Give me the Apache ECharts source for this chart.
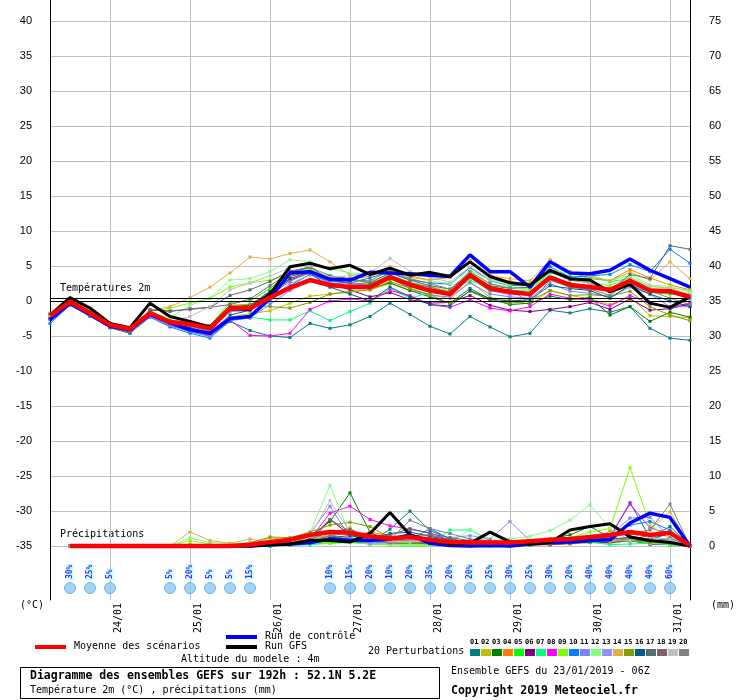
<!DOCTYPE html>
<html><head><meta charset="utf-8">
<script src="https://cdn.jsdelivr.net/npm/echarts@6/dist/echarts.min.js"></script>
<style>html,body{margin:0;padding:0;background:#fff}#c{width:740px;height:700px}</style>
</head><body><div id="c"></div>
<script>
// ---- time axis (hours since 23/01/2019 06Z) ----
const hours = [0,6,12,18,24,30,36,42,48,54,60,66,72,78,84,90,96,102,108,114,120,126,132,138,144,150,156,162,168,174,180,186,192];
const dayHours = [18,42,66,90,114,138,162,186];
const dayLabels = ['24/01','25/01','26/01','27/01','28/01','29/01','30/01','31/01'];
const tempTicks = [-35,-30,-25,-20,-15,-10,-5,0,5,10,15,20,25,30,35,40];
const mmTicks = [0,5,10,15,20,25,30,35,40,45,50,55,60,65,70,75];

// ---- temperatures 2m (°C) ----
const meanT = [-2.1,-0.1,-1.7,-3.4,-4.0,-1.7,-3.0,-3.3,-3.9,-1.0,-1.0,0.5,1.9,3.0,2.3,2.0,2.0,3.4,2.3,1.5,1.0,3.7,1.8,1.3,1.0,3.4,2.3,2.0,1.6,2.9,1.5,1.4,0.6];
const ctrlT = [-2.7,-0.3,-1.9,-3.6,-4.1,-1.9,-3.1,-4.1,-4.6,-2.5,-2.2,0.4,4.0,4.2,3.1,3.0,4.1,4.0,3.9,3.7,3.5,6.6,4.2,4.2,2.0,5.6,4.0,3.9,4.4,6.0,4.4,3.2,2.0];
const gfsT = [-2.0,0.5,-1.0,-3.2,-3.8,-0.3,-2.2,-2.9,-3.7,-1.1,-1.2,1.0,4.9,5.4,4.6,5.1,3.8,4.7,3.7,4.1,3.5,5.6,3.5,2.6,2.3,4.4,3.2,3.0,1.3,2.4,-0.3,-0.9,0.6];
const pt01 = [-2.3,-0.2,-1.9,-3.6,-4.3,-2.0,-3.4,-4.4,-5.0,-2.9,-4.2,-5.0,-5.2,-3.2,-3.9,-3.4,-2.2,-0.3,-1.9,-3.6,-4.7,-2.2,-3.7,-5.1,-4.6,-1.3,-1.7,-1.1,-1.6,-0.8,-3.9,-5.3,-5.6];
const pt02 = [-2.0,0.0,-1.8,-3.5,-4.2,-1.8,-3.3,-3.6,-4.4,-2.3,-1.8,-1.4,-0.3,0.7,1.0,1.4,1.6,2.5,1.5,1.0,0.3,2.8,0.5,0.2,-0.5,1.5,0.8,0.3,-0.5,0.6,-2.1,-2.2,-2.4];
const pt03 = [-1.9,0.1,-1.6,-3.3,-4.1,-1.5,-2.9,-3.4,-4.0,-0.8,-0.6,1.4,3.5,4.3,3.0,2.5,1.8,2.6,1.5,0.6,-0.3,1.8,0.3,-0.5,-0.3,0.7,0.2,0.5,-2.0,-0.8,-2.9,-1.6,-2.3];
const pt04 = [-2.2,-0.2,-1.8,-3.6,-4.4,-1.9,-3.3,-3.7,-4.3,-1.3,-1.2,1.0,3.6,4.5,3.3,3.2,3.5,4.6,3.6,3.0,3.4,5.8,3.7,2.8,2.3,5.8,4.2,3.2,2.9,4.5,3.3,2.3,1.6];
const pt05 = [-2.0,0.0,-1.7,-3.3,-3.9,-1.4,-2.7,-3.0,-3.5,-0.2,0.0,1.8,3.9,4.8,3.6,3.0,2.6,3.4,2.1,1.7,1.2,3.3,1.4,1.6,1.1,3.0,2.0,2.0,1.5,2.5,1.2,1.0,1.1];
const pt06 = [-2.6,-0.4,-2.0,-3.7,-4.3,-1.6,-2.9,-3.2,-3.7,-0.9,-0.8,1.3,3.2,4.2,2.5,1.6,0.6,1.2,0.2,-0.3,-0.2,0.8,-0.6,-1.3,-1.5,-1.2,-0.8,-0.2,-1.2,0.3,-1.3,-1.1,-0.4];
const pt07 = [-2.1,-0.1,-1.8,-3.5,-4.3,-2.0,-3.4,-3.9,-4.8,-2.5,-2.3,-2.7,-2.7,-1.4,-2.8,-1.5,-0.3,1.8,0.4,1.2,1.6,2.9,2.1,1.5,1.6,4.0,3.5,3.4,2.8,3.2,1.8,1.3,0.2];
const pt08 = [-2.2,-0.2,-1.9,-3.6,-4.4,-2.1,-3.6,-4.2,-4.9,-2.7,-4.9,-5.0,-4.6,-1.2,0.0,0.3,0.0,1.5,0.8,-0.5,-0.9,0.2,-1.0,-1.4,-0.8,1.0,0.4,0.1,-0.7,0.8,-0.4,-0.9,-0.3];
const pt09 = [-2.0,0.0,-1.6,-3.3,-4.0,-1.5,-1.0,-0.3,0.4,2.0,2.6,3.0,3.8,4.6,3.3,3.1,2.8,3.8,2.7,2.1,1.4,4.1,2.4,2.0,1.7,4.2,3.1,2.7,2.2,3.4,2.1,1.9,1.5];
const pt10 = [-3.2,-0.6,-2.2,-3.8,-4.6,-2.3,-3.7,-4.6,-5.3,-2.8,-2.4,0.0,2.2,3.8,2.8,2.6,3.3,4.2,3.0,2.6,2.4,4.8,2.9,2.2,2.2,4.9,3.4,3.6,3.8,5.2,4.2,7.4,5.4];
const pt11 = [-2.4,-0.3,-1.9,-3.6,-4.5,-2.2,-3.5,-4.3,-5.1,-2.6,-2.4,-0.5,1.5,2.9,2.0,1.9,2.1,3.3,1.8,0.8,0.6,2.6,1.0,0.6,0.4,2.5,1.4,1.1,0.6,2.0,1.0,-0.8,-0.8];
const pt12 = [-2.1,0.0,-1.7,-3.4,-4.0,-1.6,-2.4,-0.6,0.4,3.0,3.2,4.2,5.9,5.6,4.6,4.0,3.8,4.5,3.4,2.9,2.5,4.4,3.0,2.3,2.6,4.4,4.0,3.6,2.9,3.7,2.3,2.1,1.3];
const pt13 = [-2.3,-0.2,-1.8,-3.5,-4.2,-1.8,-3.2,-3.6,-4.2,-1.5,-1.4,0.3,2.5,3.7,2.6,2.4,2.3,3.6,2.5,1.8,1.0,3.5,1.5,0.9,0.9,3.1,2.0,1.6,1.8,2.4,1.3,1.6,0.4];
const pt14 = [-2.0,0.1,-1.6,-3.3,-4.1,-1.4,-0.8,0.5,2.0,4.0,6.3,6.0,6.8,7.3,5.6,3.7,3.8,4.9,3.4,3.0,3.4,5.7,3.6,3.2,2.9,5.9,4.2,3.6,2.9,4.1,3.0,5.6,3.2];
const pt15 = [-1.8,0.2,-1.5,-3.3,-4.0,-1.5,-2.8,-3.1,-3.5,-0.6,-0.5,-0.8,-1.0,-0.2,1.0,1.3,1.6,2.8,1.8,0.9,-0.4,1.4,0.1,-0.3,0.0,1.5,0.8,0.9,0.7,1.4,-0.8,-2.0,-2.8];
const pt16 = [-2.4,-0.3,-2.0,-3.7,-4.4,-1.9,-3.2,-3.8,-4.6,-2.0,-1.3,1.2,3.0,4.0,2.0,1.0,0.0,2.0,0.6,-0.5,-0.7,1.5,0.3,0.0,0.2,2.2,1.8,1.5,0.4,2.3,1.0,0.0,-0.8];
const pt17 = [-2.5,-0.4,-2.1,-3.8,-4.6,-1.2,-1.5,-1.1,-0.9,0.8,1.6,2.8,4.3,4.8,3.6,3.2,2.6,4.0,3.0,2.2,1.7,3.8,2.2,1.8,2.0,4.2,3.0,2.6,1.4,3.8,3.2,7.9,7.4];
const pt18 = [-2.3,-0.2,-1.9,-3.6,-4.3,-1.3,-1.4,-1.2,-0.9,-0.5,0.3,2.2,4.1,4.9,3.0,2.6,2.4,3.7,2.6,2.0,1.2,3.7,1.9,1.5,0.8,3.3,2.5,2.1,1.4,2.8,1.4,1.2,0.8];
const pt19 = [-2.2,-0.1,-1.8,-3.5,-4.1,-1.8,-3.0,-2.2,-0.8,1.6,2.6,3.6,4.8,5.0,3.4,3.6,4.0,6.1,4.2,3.4,2.7,4.9,3.1,2.6,2.2,4.5,3.2,2.5,1.8,3.2,2.1,1.8,1.0];
const pt20 = [-2.5,-0.3,-2.0,-3.6,-4.3,-1.7,-3.1,-3.5,-4.4,-1.4,-0.9,0.9,2.8,4.2,3.2,3.0,2.9,4.4,3.2,2.5,1.7,4.2,2.5,1.8,-0.4,3.0,2.0,1.7,0.8,3.0,1.5,0.4,-0.5];

// ---- precipitation (mm / 6h), from +6h ----
const meanP = [0,0,0,0,0,0,0,0,0,0.2,0.6,0.9,1.6,2.0,1.9,1.4,1.1,1.3,0.9,0.6,0.5,0.5,0.5,0.7,0.9,1.0,1.3,1.6,2.0,1.6,1.9,0.1];
const ctrlP = [0,0,0,0,0,0,0,0,0,0,0.2,0.3,0.5,1.0,0.8,0.8,1.0,1.6,0.4,0.1,0.0,0.1,0.0,0.3,0.5,0.6,0.8,0.9,3.3,4.7,4.1,0.0];
const gfsP = [0,0,0,0,0,0,0,0,0,0,0.2,0.3,0.8,0.8,0.6,1.8,4.8,1.6,0.8,0.3,0.4,2.0,0.6,0.3,0.5,2.3,2.8,3.2,1.3,0.8,0.5,0.0];
const pp01 = [0,0,0,0,0,0,0,0,0,0,0.3,0.5,0.8,1.5,0.9,0.6,2.4,5.0,2.2,1.1,0.4,0.5,0.8,0.6,0.5,0.6,1.0,1.3,6.2,1.2,2.8,0.0];
const pp02 = [0,0,0,0,0,0,0.3,0,0,0.2,1.2,0.8,0.6,1.8,2.6,0.7,0.5,0.4,0.9,0.3,0.2,0.3,0.2,0.1,0.4,0.6,0.8,0.7,1.0,0.6,0.8,0.0];
const pp03 = [0,0,0,0,0,0,0,0,0,0,0.4,0.3,1.4,3.5,7.6,2.0,0.6,0.4,0.6,0.2,0.1,0.8,0.3,0.2,1.0,1.6,2.8,1.2,0.8,0.3,0.2,0.0];
const pp04 = [0,0,0,0,0,0,0,0,0,0.5,0.2,0.5,0.8,1.0,1.3,2.0,1.5,1.2,0.8,0.8,0.5,0.3,0.2,0.1,0.2,0.3,0.5,2.2,1.5,0.6,0.4,0.0];
const pp05 = [0,0,0,0,0,0,0,0,0,0,0.0,0.2,0.3,0.5,0.6,0.3,0.4,0.3,0.2,0.1,0.0,0.0,0.0,0.1,0.3,0.4,0.5,0.4,0.8,0.6,1.0,0.0];
const pp06 = [0,0,0,0,0,0,0,0,0,0,0.1,0.2,0.6,3.8,1.6,0.7,0.4,0.5,0.3,0.2,0.1,0.1,0.2,0.3,0.2,0.4,0.6,0.5,0.8,0.3,0.4,0.0];
const pp07 = [0,0,0,0,0,0,0,0,0,0,0.0,0.1,0.2,0.4,0.5,0.3,0.2,0.1,0.2,2.3,2.3,0.8,0.5,0.4,0.6,1.2,0.6,0.2,0.3,0.4,0.2,0.0];
const pp08 = [0,0,0,0,0,0,0,0,0,0,0.1,0.4,1.0,4.7,5.7,3.8,2.9,2.4,1.9,0.8,0.4,0.3,0.3,0.2,0.4,0.5,1.0,1.4,6.0,2.6,1.8,0.0];
const pp09 = [0,0,0,0,0,0,0.8,0.3,0,0,0.3,0.6,0.5,0.4,0.6,0.3,0.2,0.1,0.1,0.2,0.1,0.2,0.3,0.5,0.8,1.2,2.0,2.5,11.2,3.0,1.0,0.0];
const pp10 = [0,0,0,0,0,0,0,0,0,0,0.0,0.2,0.4,0.8,1.2,0.5,0.6,0.9,2.5,1.0,0.3,0.2,0.4,0.6,0.3,0.8,1.2,1.5,3.0,3.5,2.3,0.0];
const pp11 = [0,0,0,0,0,0,0,0,0,0,0.2,0.6,1.8,5.7,1.2,0.8,0.4,0.7,1.4,0.5,0.8,0.6,0.6,0.4,0.6,0.7,0.9,1.6,4.0,4.1,1.2,0.0];
const pp12 = [0,0,0,0,0,0,1.2,0.5,0.4,0.2,0.5,1.0,1.9,8.7,1.6,0.5,0.3,0.2,0.3,0.6,2.3,1.0,1.0,1.4,2.2,3.7,5.9,2.5,0.8,0.4,0.3,0.0];
const pp13 = [0,0,0,0,0,0,0,0,0,0,0.1,0.2,0.5,1.0,0.8,0.4,0.5,0.9,0.5,1.2,1.5,1.0,3.5,0.8,0.6,0.7,0.9,1.2,1.8,1.5,0.8,0.0];
const pp14 = [0,0,0,0,0,0,2.0,0.8,0.4,1.0,0.5,0.9,1.2,1.5,2.2,1.0,0.6,0.5,0.8,0.9,0.6,0.4,0.2,0.3,0.5,0.8,1.2,0.6,1.0,2.4,4.9,0.0];
const pp15 = [0,0,0,0,0,0,0,0,0,0.5,1.3,1.2,2.0,3.0,3.4,2.8,1.2,0.6,0.4,0.3,0.2,0.2,0.1,0.2,0.3,0.4,1.0,0.8,0.7,0.5,0.4,0.0];
const pp16 = [0,0,0,0,0,0,0,0,0,0,0.2,0.3,0.6,1.2,1.5,1.0,1.8,2.0,1.4,0.9,0.6,0.3,0.4,0.3,0.5,0.6,0.7,0.9,1.3,1.0,1.8,0.0];
const pp17 = [0,0,0,0,0,0,0,0,0,0.3,0.3,0.4,0.9,2.1,2.4,1.1,1.6,2.5,1.8,1.2,0.8,0.6,0.5,0.4,0.5,1.0,1.2,1.0,0.8,0.7,1.1,0.0];
const pp18 = [0,0,0,0,0,0,0,0,0,0,0.2,0.4,1.0,3.8,2.1,0.8,0.5,1.5,1.6,0.9,0.7,0.5,0.3,0.2,0.6,0.5,0.8,1.2,1.0,1.5,2.0,0.0];
const pp19 = [0,0,0,0,0,0,0,0.3,0,0.6,0.2,0.5,1.4,6.5,2.0,1.3,0.7,0.6,0.8,0.5,0.4,0.3,0.6,0.5,0.7,0.9,1.1,0.9,0.8,1.2,1.0,0.0];
const pp20 = [0,0,0,0,0,0,0,0,0,0,0.3,0.4,0.8,1.4,2.0,1.2,0.9,3.7,2.5,1.8,1.0,0.8,0.6,0.5,0.7,0.9,1.3,1.6,1.8,2.3,6.0,0.0];

// ---- snow probability ----
const snowHours = [6,12,18,36,42,48,54,60,84,90,96,102,108,114,120,126,132,138,144,150,156,162,168,174,180,186];
const snowPct = [30,25,5,5,20,5,5,15,10,15,20,10,20,35,20,20,25,30,25,30,20,40,40,40,40,60];

const pertNames = ['01','02','03','04','05','06','07','08','09','10','11','12','13','14','15','16','17','18','19','20'];
const pertColors = ['#008080','#c0c000','#008000','#ff8000','#00ff00','#800080','#00ff80','#ff00ff','#80ff00','#0080ff','#8080ff','#80ff80','#9090ff','#e0b040','#80a000','#006080','#507070','#806070','#c0c0c0','#808080'];
const pertT = [pt01,pt02,pt03,pt04,pt05,pt06,pt07,pt08,pt09,pt10,pt11,pt12,pt13,pt14,pt15,pt16,pt17,pt18,pt19,pt20];
const pertP = [pp01,pp02,pp03,pp04,pp05,pp06,pp07,pp08,pp09,pp10,pp11,pp12,pp13,pp14,pp15,pp16,pp17,pp18,pp19,pp20];

const precipHours = hours.slice(1);
const zipT = v => hours.map((h, i) => [h, v[i]]);
const zipP = v => precipHours.map((h, i) => [h, v[i]]);
const MONO = '"DejaVu Sans Mono", "Liberation Mono", monospace';

const series = [];
pertT.forEach((v, k) => {
  series.push({type:'line', name:'T'+pertNames[k], data:zipT(v), yAxisIndex:0, symbol:'rect', symbolSize:3,
    lineStyle:{width:1, color:pertColors[k]}, itemStyle:{color:pertColors[k]}, z:2, silent:true});
});
pertP.forEach((v, k) => {
  series.push({type:'line', name:'P'+pertNames[k], data:zipP(v), yAxisIndex:1, symbol:'rect', symbolSize:3,
    lineStyle:{width:1, color:pertColors[k]}, itemStyle:{color:pertColors[k]}, z:2, silent:true});
});
series.push({type:'line', name:'ctrlT', data:zipT(ctrlT), yAxisIndex:0, symbol:'none', lineStyle:{width:3.5, color:'#0000ff'}, z:3});
series.push({type:'line', name:'ctrlP', data:zipP(ctrlP), yAxisIndex:1, symbol:'none', lineStyle:{width:3.5, color:'#0000ff'}, z:3});
series.push({type:'line', name:'gfsT', data:zipT(gfsT), yAxisIndex:0, symbol:'none', lineStyle:{width:3, color:'#000000'}, z:4});
series.push({type:'line', name:'gfsP', data:zipP(gfsP), yAxisIndex:1, symbol:'none', lineStyle:{width:3, color:'#000000'}, z:4});
series.push({type:'line', name:'meanT', data:zipT(meanT), yAxisIndex:0, symbol:'none', lineStyle:{width:4.5, color:'#ff0000'}, z:5,
  markLine:{silent:true, symbol:'none', label:{show:false}, lineStyle:{color:'#000', width:1, type:'solid'},
    data:[{yAxis:0},{yAxis:0.35}]}});
series.push({type:'line', name:'meanP', data:zipP(meanP), yAxisIndex:1, symbol:'none', lineStyle:{width:4.5, color:'#ff0000'}, z:5});
series.push({type:'scatter', name:'snow', yAxisIndex:0, z:6, symbol:'circle', symbolSize:11,
  itemStyle:{color:'#8cc8f0', borderColor:'#5aa8e0', borderWidth:1},
  data: snowHours.map((h, i) => [h, -41, snowPct[i]]),
  label:{show:true, position:'top', distance:2, rotate:90, align:'left', verticalAlign:'middle',
    formatter: p => p.value[2] + '%', color:'#0000ff', fontSize:8, fontFamily:MONO, fontWeight:'bold',
    backgroundColor:'#ccffff', padding:[0,1,0,1]}});

// legend graphics
const g = [];
const txt = (x, y, t, font, fill) => g.push({type:'text', left:x, top:y, silent:true, style:{text:t, font:font, fill:fill || '#000'}});
const ln = (x1, y1, x2, y2, c, w) => g.push({type:'line', silent:true, shape:{x1, y1, x2, y2}, style:{stroke:c, lineWidth:w}});
txt(60, 283, 'Températures 2m', '10px ' + MONO);
txt(60, 529, 'Précipitations', '10px ' + MONO);
txt(20, 600, '(°C)', '10px ' + MONO);
txt(711, 600, '(mm)', '10px ' + MONO);
ln(35, 647, 66, 647, '#ff0000', 4);
txt(74, 641, 'Moyenne des scénarios', '10px ' + MONO);
ln(226, 637, 257, 637, '#0000ff', 4);
txt(265, 631, 'Run de contrôle', '10px ' + MONO);
ln(226, 647, 257, 647, '#000000', 4);
txt(265, 641, 'Run GFS', '10px ' + MONO);
txt(181, 654, 'Altitude du modele : 4m', '10px ' + MONO);
txt(368, 646, '20 Perturbations', '10px ' + MONO);
pertNames.forEach((n, k) => {
  g.push({type:'rect', silent:true, shape:{x:470 + 11 * k, y:649, width:10, height:7}, style:{fill:pertColors[k]}});
  txt(470 + 11 * k, 639, n, 'bold 7px ' + MONO);
});
g.push({type:'rect', silent:true, shape:{x:20.5, y:667.5, width:419, height:31}, style:{fill:'none', stroke:'#000', lineWidth:1}});
txt(30, 670, 'Diagramme des ensembles GEFS sur 192h : 52.1N 5.2E', 'bold 11.5px ' + MONO);
txt(30, 685, 'Température 2m (°C) , précipitations (mm)', '10px ' + MONO);
txt(451, 666, 'Ensemble GEFS du 23/01/2019 - 06Z', '10px ' + MONO);
txt(451, 685, 'Copyright 2019 Meteociel.fr', 'bold 11.5px ' + MONO);

const chart = echarts.init(document.getElementById('c'), null, {renderer:'canvas'});
chart.setOption({
  animation:false,
  backgroundColor:'#fff',
  grid:{left:50, right:50, top:0, bottom:100, containLabel:false},
  xAxis:{type:'value', min:0, max:192,
    axisLine:{show:true, lineStyle:{color:'#000', width:1}},
    axisTick:{show:false, customValues:dayHours},
    splitLine:{show:true, lineStyle:{color:'#c0c0c0', width:1}},
    axisLabel:{customValues:dayHours.map(h => h + 2.4), rotate:90, margin:3, fontSize:10, fontFamily:MONO, color:'#000',
      formatter: v => { const i = dayHours.findIndex(h => Math.abs(h + 2.4 - v) < 0.5); return i >= 0 ? dayLabels[i] : ''; }}},
  yAxis:[
    {type:'value', min:-42.7, max:43, position:'left',
      axisLine:{show:true, lineStyle:{color:'#000', width:1}},
      axisTick:{show:false, customValues:tempTicks},
      axisLabel:{customValues:tempTicks, margin:18, fontSize:11, fontFamily:'"Liberation Sans", Arial, sans-serif', color:'#000'},
      splitLine:{show:true, lineStyle:{color:'#c0c0c0', width:1}}},
    {type:'value', min:-7.7, max:78, position:'right',
      axisLine:{show:true, lineStyle:{color:'#000', width:1}},
      axisTick:{show:false, customValues:mmTicks},
      axisLabel:{customValues:mmTicks, margin:19, fontSize:11, fontFamily:'"Liberation Sans", Arial, sans-serif', color:'#000'},
      splitLine:{show:false}}
  ],
  series: series,
  graphic: g
});
</script>
</body></html>
